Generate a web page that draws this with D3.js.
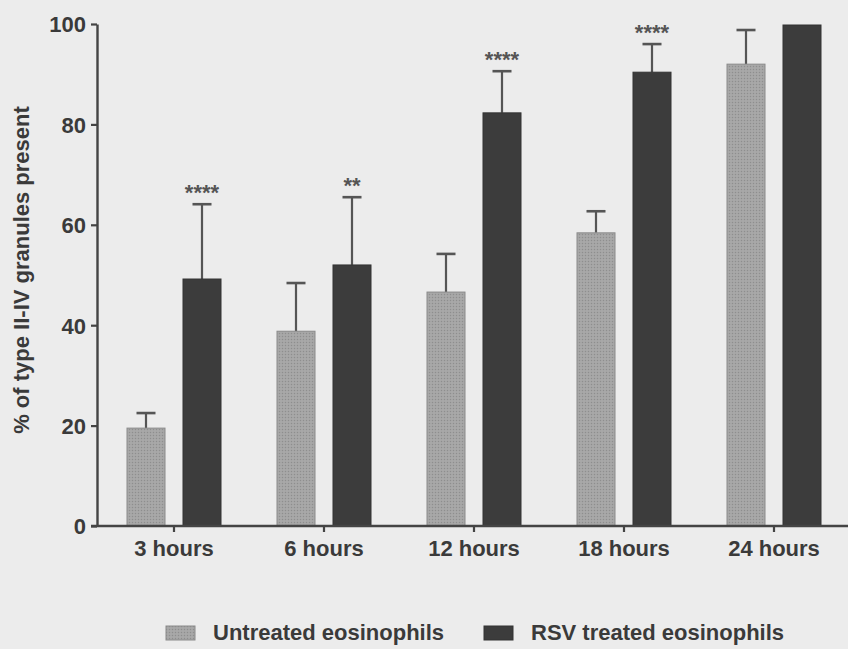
<!DOCTYPE html>
<html>
<head>
<meta charset="utf-8">
<script src="https://cdn.jsdelivr.net/npm/d3@7/dist/d3.min.js"></script>
<style>
  html, body { margin: 0; padding: 0; background: #ececec; }
  svg { display: block; }
  text { font-family: "Liberation Sans", Arial, sans-serif; font-weight: bold; fill: #3a3a3a; }
</style>
</head>
<body>
<script>
const categories = ["3 hours", "6 hours", "12 hours", "18 hours", "24 hours"];
const seriesNames = ["Untreated eosinophils", "RSV treated eosinophils"];
const untreatedValues = [19.5, 38.8, 46.6, 58.4, 92.0];
const untreatedErrors = [3.0, 9.6, 7.6, 4.3, 6.8];
const rsvValues = [49.2, 52.0, 82.3, 90.4, 99.8];
const rsvErrors = [14.9, 13.5, 8.3, 5.6, 0];
const significance = ["****", "**", "****", "****", ""];
const yTicks = [0, 20, 40, 60, 80, 100];

const W = 848, H = 649;
const svg = d3.select("body").append("svg").attr("width", W).attr("height", H);
svg.append("rect").attr("width", W).attr("height", H).attr("fill", "#ececec");

const defs = svg.append("defs");
const pat = defs.append("pattern").attr("id", "hatch").attr("width", 3).attr("height", 3)
  .attr("patternUnits", "userSpaceOnUse");
pat.append("rect").attr("width", 3).attr("height", 3).attr("fill", "#a4a4a4");
pat.append("rect").attr("width", 1).attr("height", 1).attr("fill", "#8e8e8e");
pat.append("rect").attr("x", 1.5).attr("y", 1.5).attr("width", 1).attr("height", 1).attr("fill", "#b4b4b4");

const y = d3.scaleLinear().domain([0, 100]).range([526, 24]);
const x0 = d3.scaleBand().domain(categories).range([99, 849]).padding(0);
const x1 = d3.scaleBand().domain(seriesNames).range([-47, 47]).paddingInner(0.3214);

const colors = { "Untreated eosinophils": "url(#hatch)", "RSV treated eosinophils": "#3c3c3c" };
const strokes = { "Untreated eosinophils": "#8a8a8a", "RSV treated eosinophils": "#333" };

const data = categories.map((c, i) => ({
  cat: c,
  sig: significance[i],
  bars: [
    { s: seriesNames[0], v: untreatedValues[i], e: untreatedErrors[i] },
    { s: seriesNames[1], v: rsvValues[i], e: rsvErrors[i] }
  ]
}));

const g = svg.append("g");
const groups = g.selectAll("g.cat").data(data).join("g")
  .attr("transform", d => `translate(${x0(d.cat) + x0.bandwidth() / 2},0)`);

groups.selectAll("g.err").data(d => d.bars.filter(b => b.e > 0)).join("g").each(function(b) {
  const cx = x1(b.s) + x1.bandwidth() / 2;
  const sel = d3.select(this);
  sel.append("line").attr("x1", cx).attr("x2", cx).attr("y1", y(b.v)).attr("y2", y(b.v + b.e))
    .attr("stroke", "#555").attr("stroke-width", 2.2);
  sel.append("line").attr("x1", cx - 9.5).attr("x2", cx + 9.5).attr("y1", y(b.v + b.e)).attr("y2", y(b.v + b.e))
    .attr("stroke", "#555").attr("stroke-width", 2.6);
});

groups.selectAll("rect.bar").data(d => d.bars).join("rect").attr("class", "bar")
  .attr("x", b => x1(b.s))
  .attr("width", x1.bandwidth())
  .attr("y", b => y(b.v))
  .attr("height", b => y(0) - y(b.v))
  .attr("fill", b => colors[b.s])
  .attr("stroke", b => strokes[b.s])
  .attr("stroke-width", 1);

groups.filter(d => d.sig).append("text")
  .attr("x", d => x1(seriesNames[1]) + x1.bandwidth() / 2)
  .attr("y", d => y(d.bars[1].v + d.bars[1].e) - 4)
  .attr("text-anchor", "middle")
  .style("font-size", "22px")
  .style("fill", "#555")
  .text(d => d.sig);

const yAxis = d3.axisLeft(y).tickValues(yTicks).tickSize(6).tickPadding(5).tickSizeOuter(0);
const ya = svg.append("g").attr("transform", "translate(97,0)").call(yAxis);
ya.select(".domain").attr("stroke", "#444").attr("stroke-width", 2.4);
ya.selectAll(".tick line").attr("stroke", "#444").attr("stroke-width", 2.2);
ya.selectAll(".tick text").style("font-size", "22px").attr("dy", "0.36em");

const xAxis = d3.axisBottom(x0).tickSize(6).tickPadding(8).tickSizeOuter(0);
const xa = svg.append("g").attr("transform", "translate(0,526)").call(xAxis);
xa.select(".domain").attr("stroke", "#444").attr("stroke-width", 2.4).attr("d", "M91,0H848");
xa.selectAll(".tick line").attr("stroke", "#444").attr("stroke-width", 2.2);
xa.selectAll(".tick text").style("font-size", "22px");

svg.append("text")
  .attr("transform", "translate(29,270) rotate(-90)")
  .attr("text-anchor", "middle")
  .style("font-size", "22px")
  .text("% of type II-IV granules present");

const legendItems = [
  { s: seriesNames[0], x: 166 },
  { s: seriesNames[1], x: 484 }
];
const lg = svg.append("g").selectAll("g").data(legendItems).join("g")
  .attr("transform", d => `translate(${d.x},626)`);
lg.append("rect").attr("width", 29).attr("height", 14)
  .attr("fill", d => colors[d.s]).attr("stroke", d => strokes[d.s]).attr("stroke-width", 1);
lg.append("text").attr("x", 47).attr("y", 14).style("font-size", "22px").text(d => d.s);
</script>
</body>
</html>
